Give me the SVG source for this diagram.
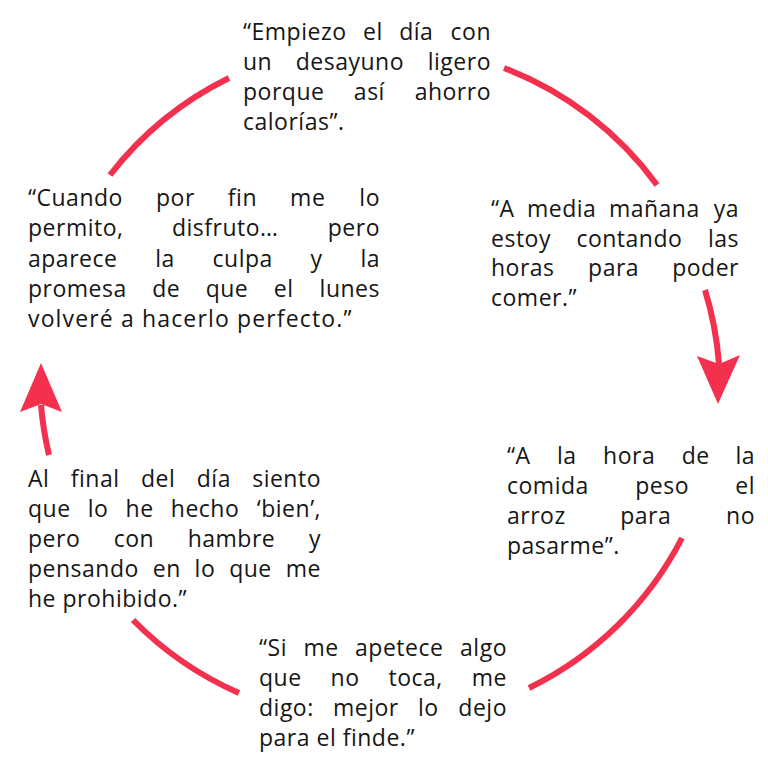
<svg xmlns="http://www.w3.org/2000/svg" width="768" height="768" viewBox="0 0 768 768">
<style>
  .t { font-family: "Open Sans", "Noto Sans", "DejaVu Sans", sans-serif; font-size: 23px; fill: #161616; letter-spacing: 0.5px; }
  .e { text-anchor: end; }
  .arc { fill: none; stroke: #F3304E; stroke-width: 6; stroke-linecap: butt; }
  .head { fill: #F3304E; }
</style>
<rect width="768" height="768" fill="#ffffff"/>
<g id="connectors">
  <path class="arc" d="M504,68 A340,340 0 0 1 657,185"/>
  <path class="arc" d="M705,290 A340,340 0 0 1 719,364"/>
  <polygon class="head" points="697,356 719,364 740,355 718,404"/>
  <path class="arc" d="M682,538 A340,340 0 0 1 529,688"/>
  <path class="arc" d="M239,693 A340,340 0 0 1 133,620"/>
  <path class="arc" d="M49,455 A340,340 0 0 1 41,405"/>
  <polygon class="head" points="20,412 41,404 62,412 41,363"/>
  <path class="arc" d="M110,175 A340,340 0 0 1 229,78"/>
</g>
<g id="node-desayuno">
  <text class="t" x="243" y="40" style="word-spacing:10px">“Empiezo el día</text><text class="t e" x="491" y="40">con</text>
  <text class="t" x="243" y="70" style="word-spacing:17px">un desayuno</text><text class="t e" x="491" y="70">ligero</text>
  <text class="t" x="243" y="100" style="word-spacing:23px">porque así</text><text class="t e" x="491" y="100">ahorro</text>
  <text class="t" x="243" y="130">calorías”.</text>
</g>
<g id="node-media-manana">
  <text class="t" x="491" y="217" style="word-spacing:6px">“A media mañana</text><text class="t e" x="739" y="217">ya</text>
  <text class="t" x="491" y="247" style="word-spacing:19px">estoy contando</text><text class="t e" x="739" y="247">las</text>
  <text class="t" x="491" y="276" style="word-spacing:27px">horas para</text><text class="t e" x="739" y="276">poder</text>
  <text class="t" x="491" y="306">comer.”</text>
</g>
<g id="node-comida">
  <text class="t" x="507" y="464" style="word-spacing:20px">“A la hora de</text><text class="t e" x="755" y="464">la</text>
  <text class="t" x="507" y="494" style="word-spacing:40px">comida peso</text><text class="t e" x="755" y="494">el</text>
  <text class="t" x="507" y="524" style="word-spacing:48px">arroz para</text><text class="t e" x="755" y="524">no</text>
  <text class="t" x="507" y="554">pasarme”.</text>
</g>
<g id="node-apetece">
  <text class="t" x="259" y="656" style="word-spacing:10px">“Si me apetece</text><text class="t e" x="507" y="656">algo</text>
  <text class="t" x="259" y="686" style="word-spacing:22.5px">que no toca,</text><text class="t e" x="507" y="686">me</text>
  <text class="t" x="259" y="716" style="word-spacing:12.8px">digo: mejor lo</text><text class="t e" x="507" y="716">dejo</text>
  <text class="t" x="259" y="746">para el finde.”</text>
</g>
<g id="node-final-dia">
  <text class="t" x="28" y="487" style="word-spacing:15px">Al final del día</text><text class="t e" x="321" y="487">siento</text>
  <text class="t" x="28" y="517" style="word-spacing:10.7px">que lo he hecho</text><text class="t e" x="321" y="517">‘bien’,</text>
  <text class="t" x="28" y="547" style="word-spacing:27px">pero con hambre</text><text class="t e" x="321" y="547">y</text>
  <text class="t" x="28" y="577" style="word-spacing:7.4px">pensando en lo que</text><text class="t e" x="321" y="577">me</text>
  <text class="t" x="28" y="607">he prohibido.”</text>
</g>
<g id="node-cuando">
  <text class="t" x="28" y="206" style="word-spacing:26.6px">“Cuando por fin me</text><text class="t e" x="380" y="206">lo</text>
  <text class="t" x="28" y="236" style="word-spacing:42px">permito, disfruto…</text><text class="t e" x="380" y="236">pero</text>
  <text class="t" x="28" y="267" style="word-spacing:31.3px">aparece la culpa y</text><text class="t e" x="380" y="267">la</text>
  <text class="t" x="28" y="297" style="word-spacing:19px">promesa de que el</text><text class="t e" x="380" y="297">lunes</text>
  <text class="t" x="28" y="327" textLength="324" lengthAdjust="spacing">volveré a hacerlo perfecto.”</text>
</g>
</svg>
